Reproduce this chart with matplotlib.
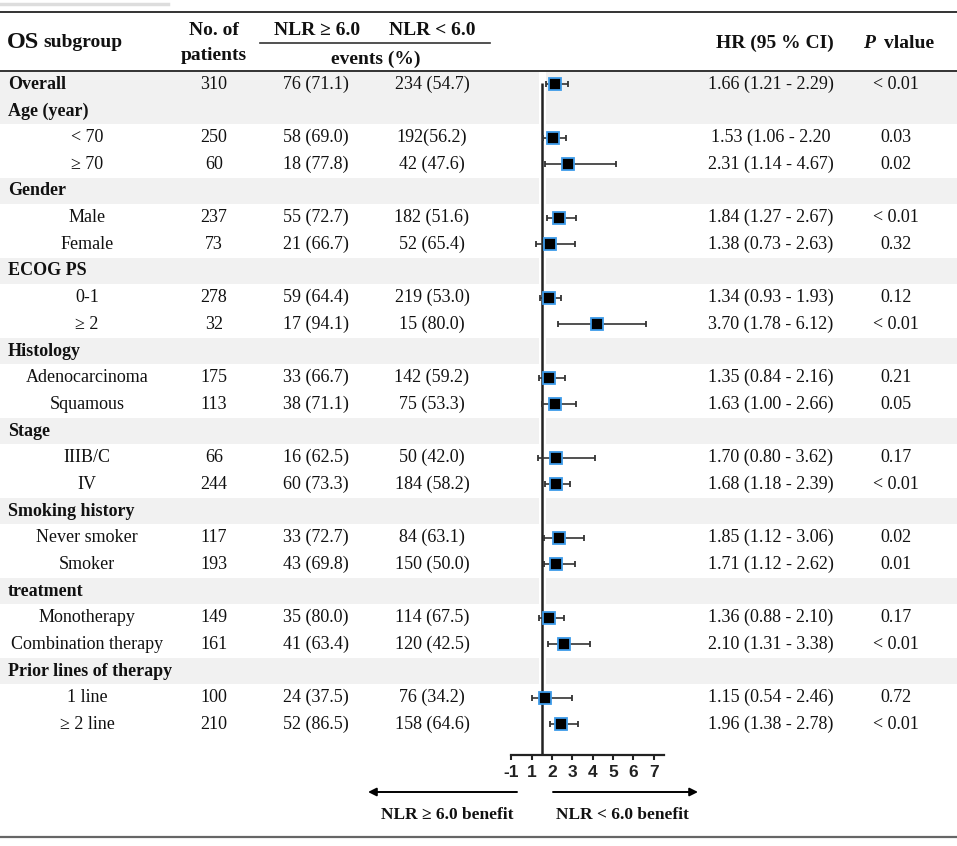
import numpy as np
import matplotlib
matplotlib.use('Agg')
import matplotlib.pyplot as plt
from matplotlib.patches import Rectangle

# ---- table data ----
labels = ['Overall', 'Age (year)', '< 70', '\u2265 70', 'Gender', 'Male', 'Female',
          'ECOG PS', '0-1', '\u2265 2', 'Histology', 'Adenocarcinoma', 'Squamous',
          'Stage', 'IIIB/C', 'IV', 'Smoking history', 'Never smoker', 'Smoker',
          'treatment', 'Monotherapy', 'Combination therapy', 'Prior lines of therapy',
          '1 line', '\u2265 2 line']
header_rows = [0, 1, 4, 7, 10, 13, 16, 19, 22]   # bold, grey band
n_patients = ['310', '', '250', '60', '', '237', '73', '', '278', '32', '', '175', '113',
              '', '66', '244', '', '117', '193', '', '149', '161', '', '100', '210']
events_high = ['76 (71.1)', '', '58 (69.0)', '18 (77.8)', '', '55 (72.7)', '21 (66.7)', '',
               '59 (64.4)', '17 (94.1)', '', '33 (66.7)', '38 (71.1)', '', '16 (62.5)',
               '60 (73.3)', '', '33 (72.7)', '43 (69.8)', '', '35 (80.0)', '41 (63.4)', '',
               '24 (37.5)', '52 (86.5)']
events_low = ['234 (54.7)', '', '192(56.2)', '42 (47.6)', '', '182 (51.6)', '52 (65.4)', '',
              '219 (53.0)', '15 (80.0)', '', '142 (59.2)', '75 (53.3)', '', '50 (42.0)',
              '184 (58.2)', '', '84 (63.1)', '150 (50.0)', '', '114 (67.5)', '120 (42.5)', '',
              '76 (34.2)', '158 (64.6)']
hr = [1.66, np.nan, 1.53, 2.31, np.nan, 1.84, 1.38, np.nan, 1.34, 3.70, np.nan, 1.35, 1.63,
      np.nan, 1.70, 1.68, np.nan, 1.85, 1.71, np.nan, 1.36, 2.10, np.nan, 1.15, 1.96]
ci_low = [1.21, np.nan, 1.06, 1.14, np.nan, 1.27, 0.73, np.nan, 0.93, 1.78, np.nan, 0.84, 1.00,
          np.nan, 0.80, 1.18, np.nan, 1.12, 1.12, np.nan, 0.88, 1.31, np.nan, 0.54, 1.38]
ci_high = [2.29, np.nan, 2.20, 4.67, np.nan, 2.67, 2.63, np.nan, 1.93, 6.12, np.nan, 2.16, 2.66,
           np.nan, 3.62, 2.39, np.nan, 3.06, 2.62, np.nan, 2.10, 3.38, np.nan, 2.46, 2.78]
hr_text = ['1.66 (1.21 - 2.29)', '', '1.53 (1.06 - 2.20', '2.31 (1.14 - 4.67)', '',
           '1.84 (1.27 - 2.67)', '1.38 (0.73 - 2.63)', '', '1.34 (0.93 - 1.93)',
           '3.70 (1.78 - 6.12)', '', '1.35 (0.84 - 2.16)', '1.63 (1.00 - 2.66)', '',
           '1.70 (0.80 - 3.62)', '1.68 (1.18 - 2.39)', '', '1.85 (1.12 - 3.06)',
           '1.71 (1.12 - 2.62)', '', '1.36 (0.88 - 2.10)', '2.10 (1.31 - 3.38)', '',
           '1.15 (0.54 - 2.46)', '1.96 (1.38 - 2.78)']
p_values = ['< 0.01', '', '0.03', '0.02', '', '< 0.01', '0.32', '', '0.12', '< 0.01', '',
            '0.21', '0.05', '', '0.17', '< 0.01', '', '0.02', '0.01', '', '0.17', '< 0.01', '',
            '0.72', '< 0.01']
tick_labels = ['-1', '1', '2', '3', '4', '5', '6', '7']

serif = ['Liberation Serif', 'DejaVu Serif']
W, H = 957, 846
row0, row_h = 84.3, 26.67          # pixel centre of first row, row height
def ry(py):
    return (py - row0) / row_h

fig = plt.figure(figsize=(W / 100, H / 100), dpi=100)
ax = fig.add_axes([0, 0, 1, 1])
ax.set_xlim(0, W)
ax.set_ylim(ry(H), ry(0))
ax.axis('off')

rows = np.arange(len(labels))

# grey bands for group rows
for i in header_rows:
    ax.axhspan(i - 0.5, i + 0.5, color='#f1f1f1', lw=0, zorder=0)
ax.add_patch(Rectangle((538.5, -0.5), 7, len(labels), color='white', lw=0, zorder=0.5))

# rules
ax.plot([0, 168], [ry(4), ry(4)], color='#dddddd', lw=2.5)
ax.plot([0, W], [ry(12), ry(12)], color='#333333', lw=1.4)
ax.plot([260, 490], [ry(43), ry(43)], color='#333333', lw=1.2)
ax.plot([0, W], [ry(71), ry(71)], color='#333333', lw=1.4)
ax.plot([0, W], [ry(837), ry(837)], color='#666666', lw=1.6)

# header
hdr = dict(family=serif, fontweight='bold', color='#111111', va='center')
ax.text(7, ry(42), 'OS', fontsize=17.5, ha='left', **hdr)
ax.text(43, ry(42), 'subgroup', fontsize=14, ha='left', **hdr)
ax.text(214, ry(30), 'No. of', fontsize=14, ha='center', **hdr)
ax.text(214, ry(55), 'patients', fontsize=14, ha='center', **hdr)
ax.text(317, ry(30), 'NLR \u2265 6.0', fontsize=14, ha='center', **hdr)
ax.text(432, ry(30), 'NLR < 6.0', fontsize=14, ha='center', **hdr)
ax.text(376, ry(59), 'events (%)', fontsize=14, ha='center', **hdr)
ax.text(775, ry(43), 'HR (95 % CI)', fontsize=14, ha='center', **hdr)
ax.text(863, ry(43), 'P', fontsize=14, ha='left', fontstyle='italic', **hdr)
ax.text(884, ry(43), 'vlalue', fontsize=14, ha='left', **hdr)

# body
body = dict(family=serif, fontsize=13, color='#111111', va='center', ha='center')
for i in rows:
    if i in header_rows:
        ax.text(8, i, labels[i], family=serif, fontsize=13, fontweight='bold',
                color='#111111', va='center', ha='left')
    else:
        ax.text(87, i, labels[i], **body)
    ax.text(214, i, n_patients[i], **body)
    ax.text(316, i, events_high[i], **body)
    ax.text(432, i, events_low[i], **body)
    ax.text(771, i, hr_text[i], **body)
    ax.text(896, i, p_values[i], **body)

# benefit arrows
arrow = dict(arrowstyle='-|>', color='black', lw=1.4, mutation_scale=12, shrinkA=0, shrinkB=0)
ax.annotate('', xy=(368, ry(792)), xytext=(517, ry(792)), arrowprops=arrow)
ax.annotate('', xy=(698, ry(792)), xytext=(553, ry(792)), arrowprops=arrow)
ax.text(447, ry(815), 'NLR \u2265 6.0 benefit', fontsize=12.5, ha='center', **hdr)
ax.text(622, ry(815), 'NLR < 6.0 benefit', fontsize=12.5, ha='center', **hdr)

# ---- forest plot ----
L, R, top_px, bot_px = 490, 720, 70, 755
x0_px, unit_px = 541.8, 20.35     # pixel of HR = 1, pixels per HR unit
ax_f = fig.add_axes([L / W, 1 - bot_px / H, (R - L) / W, (bot_px - top_px) / H])
ax_f.set_xlim(1 + (L - x0_px) / unit_px, 1 + (R - x0_px) / unit_px)
ax_f.set_ylim(ry(bot_px), ry(top_px))
ax_f.patch.set_alpha(0)

hr_a = np.array(hr)
lo_a = np.array(ci_low)
hi_a = np.array(ci_high)
ok = ~np.isnan(hr_a)
ax_f.vlines(1, -0.05, ry(bot_px), color='#222222', lw=1.8, zorder=1)
ax_f.errorbar(hr_a[ok], rows[ok], xerr=[hr_a[ok] - lo_a[ok], hi_a[ok] - hr_a[ok]],
              fmt='s', ms=9, mfc='black', mec='#3d9be9', mew=1.3,
              ecolor='#333333', elinewidth=1.2, capsize=2.5, capthick=1.2, zorder=3)

for s in ['top', 'left', 'right']:
    ax_f.spines[s].set_visible(False)
ax_f.spines['bottom'].set_bounds(-0.5, 7)
ax_f.spines['bottom'].set_linewidth(1.6)
ax_f.spines['bottom'].set_color('#222222')
ax_f.set_yticks([])
ax_f.set_xticks(np.arange(len(tick_labels)) - 0.5)
ax_f.set_xticklabels(tick_labels, family=['Liberation Sans', 'DejaVu Sans'],
                     fontweight='bold', fontsize=12.5, color='#222222')
ax_f.tick_params(axis='x', direction='out', length=3.5, width=1.5, pad=4, color='#222222')

fig.savefig('out.png', dpi=100)
